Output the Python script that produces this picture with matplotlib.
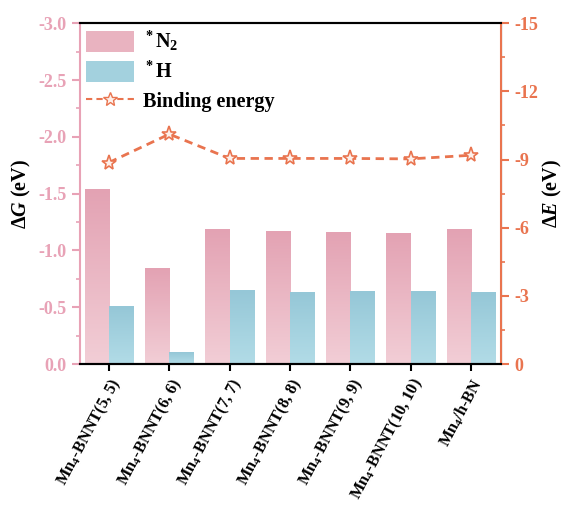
import numpy as np
import matplotlib.pyplot as plt
from matplotlib.colors import LinearSegmentedColormap
from matplotlib.patches import Patch
from matplotlib.lines import Line2D
from matplotlib.ticker import MultipleLocator

plt.rcParams["font.family"] = "Liberation Serif"
plt.rcParams["font.weight"] = "bold"
plt.rcParams["axes.labelweight"] = "bold"
plt.rcParams["mathtext.fontset"] = "custom"
plt.rcParams["mathtext.rm"] = "Liberation Serif:bold"
plt.rcParams["mathtext.bf"] = "Liberation Serif:bold"
plt.rcParams["mathtext.it"] = "Liberation Serif:italic:bold"
plt.rcParams["mathtext.default"] = "bf"

labels = ["Mn$_4$-BNNT(5, 5)", "Mn$_4$-BNNT(6, 6)", "Mn$_4$-BNNT(7, 7)", "Mn$_4$-BNNT(8, 8)",
          "Mn$_4$-BNNT(9, 9)", "Mn$_4$-BNNT(10, 10)", "Mn$_4$/h-BN"]
dg_n2 = [-1.54, -0.84, -1.18, -1.17, -1.16, -1.15, -1.18]
dg_h = [-0.51, -0.10, -0.65, -0.63, -0.64, -0.64, -0.63]
binding = [-8.87, -10.12, -9.05, -9.05, -9.05, -9.03, -9.19]
g_ticks = [0.0, -0.5, -1.0, -1.5, -2.0, -2.5, -3.0]
e_ticks = [0, -3, -6, -9, -12, -15]

pink_top, pink_bot = "#e3a2b3", "#f2ced6"
blue_top, blue_bot = "#95c7d7", "#b2dce7"
pink_axis = "#e8a2b6"
orange = "#e9744f"

cmap_pink = LinearSegmentedColormap.from_list("pk", [pink_bot, pink_top])
cmap_blue = LinearSegmentedColormap.from_list("bl", [blue_bot, blue_top])
grad = np.linspace(0, 1, 256).reshape(-1, 1)

fig = plt.figure(figsize=(5.63, 5.05), dpi=100)
ax = fig.add_axes([0.142, 0.279, 0.748, 0.675])
x = np.arange(len(labels))
w = 0.4
for i in range(len(labels)):
    ax.imshow(grad, extent=(x[i] - w, x[i], 0, dg_n2[i]), origin="lower",
              cmap=cmap_pink, aspect="auto", zorder=2)
    ax.imshow(grad, extent=(x[i], x[i] + w, 0, dg_h[i]), origin="lower",
              cmap=cmap_blue, aspect="auto", zorder=2)

ax.set_xlim(-0.48, 6.5)
ax.set_ylim(0, -3.0)
ax.set_xticks(x)
ax.set_xticklabels(labels, rotation=62, ha="right", rotation_mode="anchor",
                   fontsize=11.8, fontweight="bold")
ax.set_yticks(g_ticks)
ax.set_yticklabels([f"{v:.1f}" for v in g_ticks], fontweight="bold")
ax.yaxis.set_minor_locator(MultipleLocator(0.25))
ax.tick_params(axis="y", colors=pink_axis, labelsize=13, width=1.5, length=6)
ax.tick_params(axis="y", which="minor", colors=pink_axis, width=1.2, length=3)
ax.tick_params(axis="x", colors="black", width=1.5, length=5, pad=3)
ax.spines["left"].set_color(pink_axis)
ax.spines["left"].set_linewidth(1.5)
ax.spines["bottom"].set_linewidth(1.5)
ax.spines["top"].set_linewidth(1.5)
ax.set_ylabel("Δ$\\mathit{G}$ (eV)", fontsize=14.5, labelpad=4)

ax2 = ax.twinx()
ax2.plot(x, binding, linestyle="--", color=orange, linewidth=2, dashes=(3, 2),
         marker="*", markersize=11, markerfacecolor="#fdf0ea", markeredgecolor=orange,
         markeredgewidth=1.2, zorder=3)
ax2.set_ylim(0, -15)
ax2.set_yticks(e_ticks)
ax2.set_yticklabels([str(v) for v in e_ticks], fontweight="bold")
ax2.yaxis.set_minor_locator(MultipleLocator(1.5))
ax2.tick_params(axis="y", colors=orange, labelsize=13, width=1.5, length=6)
ax2.tick_params(axis="y", which="minor", colors=orange, width=1.2, length=3)
ax2.spines["right"].set_color(orange)
ax2.spines["right"].set_linewidth(1.5)
ax2.spines["left"].set_visible(False)
ax2.spines["top"].set_linewidth(1.5)
ax2.spines["bottom"].set_linewidth(1.5)
ax2.set_ylabel("Δ$\\mathit{E}$ (eV)", fontsize=14.5, labelpad=2)

handles = [Patch(facecolor="#e9b3c0", edgecolor="none"),
           Patch(facecolor="#a3d1de", edgecolor="none"),
           Line2D([0], [0], linestyle="--", dashes=(3, 2), color=orange, linewidth=1.5,
                  marker="*", markersize=10, markerfacecolor="#fdf0ea", markeredgecolor=orange)]
ax2.legend(handles, ["$^*$N$_2$", "$^*$H", "Binding energy"], loc="upper left",
           frameon=False, fontsize=14.5, handlelength=2.4, handleheight=1.25,
           labelspacing=0.35, borderaxespad=0.1, borderpad=0.2, handletextpad=0.45)

fig.savefig("out.png", dpi=100)
